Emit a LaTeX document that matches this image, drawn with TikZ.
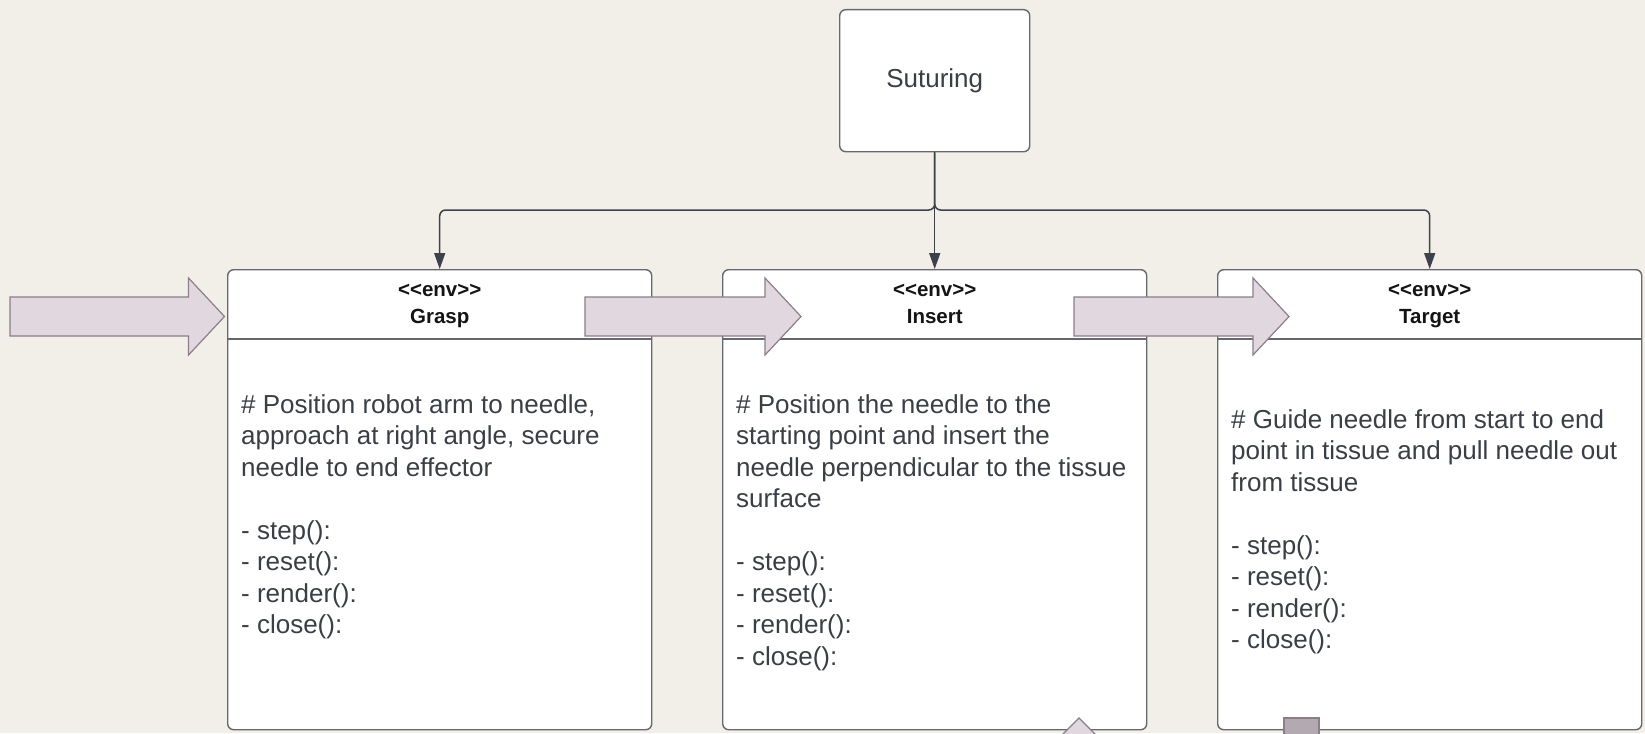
\documentclass[tikz,border=0pt]{standalone}
\usepackage{fontspec}
\setmainfont{Liberation Sans}
\usetikzlibrary{arrows.meta,calc}

\definecolor{paper}{HTML}{F2EFE8}
\definecolor{boxline}{HTML}{65696F}
\definecolor{inktext}{HTML}{3A3E45}
\definecolor{headtext}{HTML}{141414}
\definecolor{wire}{HTML}{3D424A}
\definecolor{arrowfill}{HTML}{E1D8DF}
\definecolor{arrowline}{HTML}{8D7D8A}
\definecolor{squarefill}{HTML}{B3A9B0}

\tikzset{
  envbox/.style={draw=boxline, fill=white, line width=1.4pt, rounded corners=6pt,
    minimum width=424pt, minimum height=460pt, inner sep=0pt, anchor=north west},
  rootbox/.style={draw=boxline, fill=white, line width=1.4pt, rounded corners=6pt,
    minimum width=190pt, minimum height=142pt, inner sep=0pt, anchor=north west,
    text=inktext, font=\fontsize{26}{31.5}\selectfont},
  headtxt/.style={anchor=base, inner sep=0pt, text=headtext,
    font=\fontsize{20.5}{24}\selectfont\bfseries},
  % multi-line text: the base anchor sits on the last line
  bodytxt/.style={anchor=base west, inner sep=0pt, align=left, text=inktext,
    font=\fontsize{26}{31.5}\selectfont},
  conn/.style={draw=wire, line width=1.5pt, rounded corners=6pt,
    -{Triangle[length=16pt,width=11pt]}},
  fatarrow/.style={draw=arrowline, fill=arrowfill, line width=1.2pt, line join=miter},
}

% block arrow from tail x to tip x, centred on the header band
\newcommand\fatarrowat[2]{%
  \draw[fatarrow] (#1,297) -- (#2-36,297) -- (#2-36,278) -- (#2,316.5)
    -- (#2-36,355) -- (#2-36,336) -- (#1,336) -- cycle;}

\begin{document}
\begin{tikzpicture}[x=1pt,y=-1pt]
  \fill[paper] (0,0) rectangle (1645,733);
  \clip (0,0) rectangle (1645,733);

  % root
  \node[rootbox] (sut) at (839,9) {Suturing};

  % environment classes
  \node[envbox] (grasp)  at (227,269) {};
  \node[envbox] (insert) at (722,269) {};
  \node[envbox] (target) at (1217,269) {};

  \foreach \b/\t in {grasp/Grasp, insert/Insert, target/Target}{
    \draw[boxline, line width=1.4pt]
      ($(\b.north west)+(0,70)$) -- ($(\b.north east)+(0,70)$);
    \node[headtxt] (\b-stereo) at ($(\b.north)+(0,27)$) {<\kern0pt<env>\kern0pt>};
    \node[headtxt] (\b-name) at ($(\b.north)+(0,54)$) {\t};
  }

  \node[bodytxt] (grasp-body) at ($(grasp.north west)+(14,364.5)$)
    {\# Position robot arm to needle,\\
     approach at right angle, secure\\
     needle to end effector\\[31.5pt]
     - step():\\ - reset():\\ - render():\\ - close():};
  \node[bodytxt] (insert-body) at ($(insert.north west)+(14,396)$)
    {\# Position the needle to the\\
     starting point and insert the\\
     needle perpendicular to the tissue\\
     surface\\[31.5pt]
     - step():\\ - reset():\\ - render():\\ - close():};
  \node[bodytxt] (target-body) at ($(target.north west)+(14,379.5)$)
    {\# Guide needle from start to end\\
     point in tissue and pull needle out\\
     from tissue\\[31.5pt]
     - step():\\ - reset():\\ - render():\\ - close():};

  % connectors from the root
  \coordinate (bus) at (934,210);
  \draw[conn] (sut.south) -- (sut.south |- bus) -| (grasp.north);
  \draw[conn] (sut.south) -- (insert.north);
  \draw[conn] (sut.south) -- (sut.south |- bus) -| (target.north);

  % block arrows between the stages
  \fatarrowat{10}{224.5}
  \fatarrowat{585}{801}
  \fatarrowat{1074}{1289}

  % shapes along the lower edge
  \draw[fatarrow] (1079,718) -- (1116,755) -- (1079,792) -- (1042,755) -- cycle;
  \draw[draw=arrowline, fill=squarefill, line width=1.2pt] (1284,718) rectangle (1319,760);
\end{tikzpicture}
\end{document}
